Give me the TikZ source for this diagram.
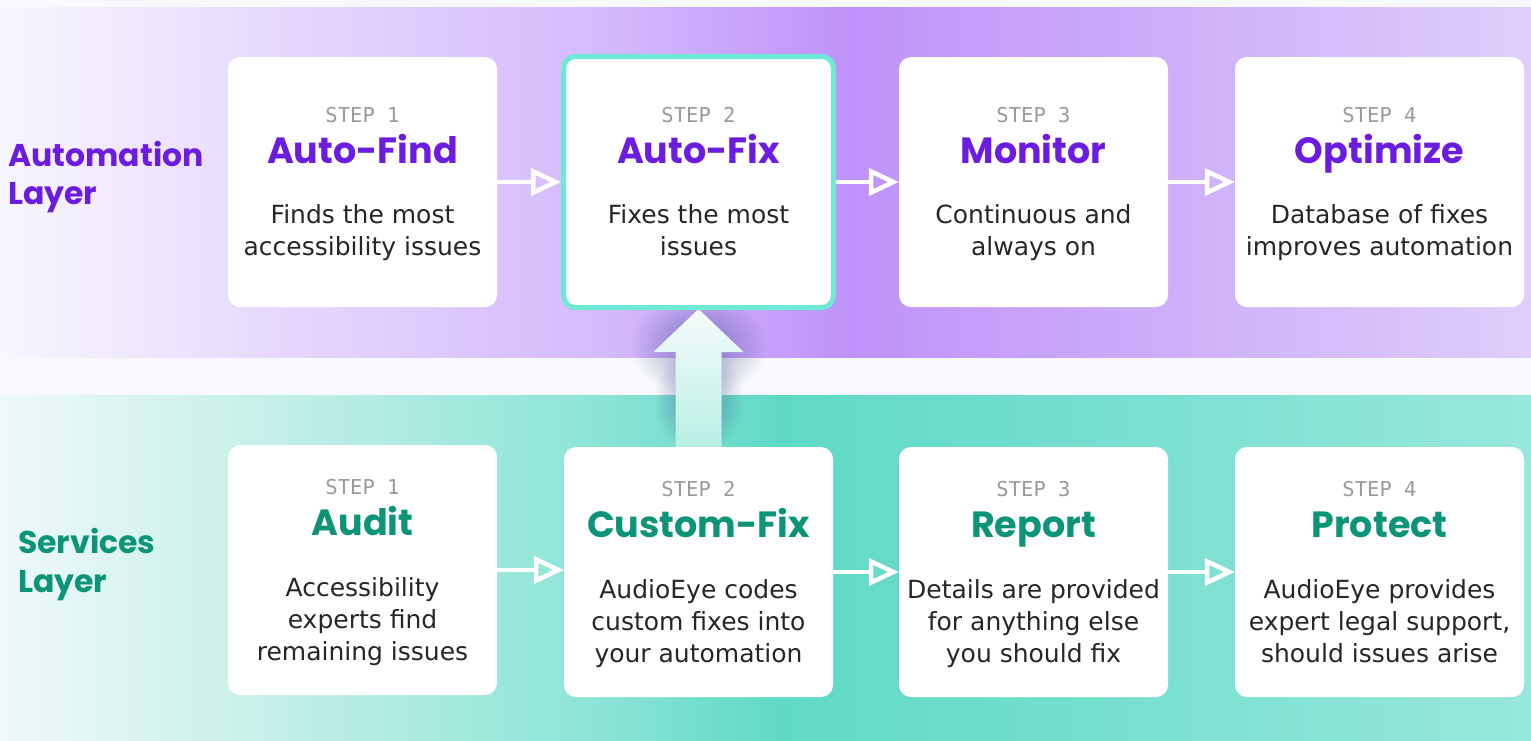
\documentclass[tikz,border=0pt]{standalone}
\usepackage{fontspec}
\setmainfont{DejaVu Sans}
\newfontfamily\titlefont{Poppins}
\newfontfamily\stepfont{DejaVu Sans Mono}
\usetikzlibrary{arrows.meta,calc,fadings}

\definecolor{pagebg}{HTML}{F8F9FC}
\definecolor{pA}{HTML}{F8F6FE}
\definecolor{pB}{HTML}{E4D6FC}
\definecolor{pC}{HTML}{D5BAFD}
\definecolor{pD}{HTML}{BF92F9}
\definecolor{pE}{HTML}{CAA8F9}
\definecolor{pF}{HTML}{DFCEFB}
\definecolor{tA}{HTML}{EEF9F8}
\definecolor{tB}{HTML}{BFEEE6}
\definecolor{tC}{HTML}{8BE4D6}
\definecolor{tD}{HTML}{5FD9C5}
\definecolor{tE}{HTML}{76DFCF}
\definecolor{tF}{HTML}{98E7DB}
\definecolor{purp}{HTML}{6C1CE0}
\definecolor{teal}{HTML}{0C9478}
\definecolor{bodytext}{HTML}{262626}
\definecolor{stepgray}{HTML}{9A9A9A}
\definecolor{tborder}{HTML}{6FE9D6}
\definecolor{arrtop}{HTML}{F5FCFB}
\definecolor{arrbot}{HTML}{B8EEE4}
\definecolor{glowc}{HTML}{3E4A8A}

\pgfdeclarehorizontalshading{purpband}{100bp}{color(0bp)=(pA); color(25bp)=(pA); color(34.8bp)=(pB); color(44.6bp)=(pC); color(52.8bp)=(pD); color(60.9bp)=(pE); color(75bp)=(pF); color(100bp)=(pF)}
\pgfdeclarehorizontalshading{tealband}{100bp}{color(0bp)=(tA); color(25bp)=(tA); color(34.8bp)=(tB); color(44.6bp)=(tC); color(50.5bp)=(tD); color(60.9bp)=(tE); color(75bp)=(tF); color(100bp)=(tF)}
\tikzfading[name=softglow, inner color=transparent!45, outer color=transparent!100]

\tikzset{
  stepbox/.style={fill=white, rounded corners=12pt, minimum width=269pt, minimum height=250pt, inner sep=0pt},
  widebox/.style={stepbox, minimum width=289pt},
  steplbl/.style={anchor=base, inner sep=0pt, text=stepgray, font=\stepfont\fontsize{20.5}{20.5}\selectfont},
  ptitle/.style={anchor=base, inner sep=0pt, text=purp, font=\titlefont\bfseries\fontsize{36.5}{36.5}\selectfont},
  ttitle/.style={ptitle, text=teal},
  body/.style={anchor=north, inner sep=0pt, align=center, text=bodytext, font=\fontsize{25}{32}\selectfont},
  layerlbl/.style={anchor=base west, inner sep=0pt, font=\titlefont\bfseries\fontsize{31.5}{31.5}\selectfont},
  conn/.style={draw=white, line width=4.5pt, -{Triangle[open, length=30pt, width=27pt, line width=4.5pt]}}
}

\begin{document}
\begin{tikzpicture}[x=1pt,y=-1pt]
\useasboundingbox (0,0) rectangle (1531,740);
\fill[pagebg] (0,0) rectangle (1531,740);
\shade[shading=purpband] (0,7) rectangle (1531,357);
\shade[shading=tealband] (0,395) rectangle (1531,740);

% layer labels
\node[layerlbl, text=purp] (la1) at (8,166) {Automation};
\node[layerlbl, text=purp] (la2) at (8,204) {Layer};
\node[layerlbl, text=teal] (ls1) at (18,553) {Services};
\node[layerlbl, text=teal] (ls2) at (18,592) {Layer};

% glow behind the big arrow
\fill[glowc, path fading=softglow] (698.5,345) ellipse [x radius=68pt, y radius=52pt];
\fill[glowc, path fading=softglow] (698.5,400) ellipse [x radius=45pt, y radius=55pt];

% anchor coordinates for the big arrow
\coordinate (upB) at (698.5,447);
\coordinate (upT) at (698.5,309);
\shade[top color=arrtop, bottom color=arrbot]
  ($(upB)+(-23,0)$) -- ($(upT)+(-23,43)$) -- ($(upT)+(-45,43)$) -- (upT)
  -- ($(upT)+(45,43)$) -- ($(upT)+(23,43)$) -- ($(upB)+(23,0)$) -- cycle;

% top row boxes
\node[stepbox] (t1) at (362.5,182) {};
\node[stepbox, draw=tborder, line width=5pt, minimum width=270pt, minimum height=251pt] (t2) at (698.5,182) {};
\node[stepbox] (t3) at (1033.5,182) {};
\node[widebox] (t4) at (1379.5,182) {};

% bottom row boxes
\node[stepbox] (b1) at (362.5,570) {};
\node[stepbox] (b2) at (698.5,572) {};
\node[stepbox] (b3) at (1033.5,572) {};
\node[widebox] (b4) at (1379.5,572) {};

% top row texts
\node[steplbl] (t1s) at (362.5,122) {STEP 1};
\node[ptitle] (t1h) at (362.5,163) {Auto-Find};
\node[body] (t1b) at (362.5,204) {Finds the most\\accessibility issues};

\node[steplbl] (t2s) at (698.5,122) {STEP 2};
\node[ptitle] (t2h) at (698.5,163) {Auto-Fix};
\node[body] (t2b) at (698.5,204) {Fixes the most\\issues};

\node[steplbl] (t3s) at (1033.5,122) {STEP 3};
\node[ptitle] (t3h) at (1033.5,163) {Monitor};
\node[body] (t3b) at (1033.5,204) {Continuous and\\always on};

\node[steplbl] (t4s) at (1379.5,122) {STEP 4};
\node[ptitle] (t4h) at (1379.5,163) {Optimize};
\node[body] (t4b) at (1379.5,204) {Database of fixes\\improves automation};

% bottom row texts
\node[steplbl] (b1s) at (362.5,494) {STEP 1};
\node[ttitle] (b1h) at (362.5,535) {Audit};
\node[body] (b1b) at (362.5,577) {Accessibility\\experts find\\remaining issues};

\node[steplbl] (b2s) at (698.5,496) {STEP 2};
\node[ttitle] (b2h) at (698.5,537) {Custom-Fix};
\node[body] (b2b) at (698.5,579) {AudioEye codes\\custom fixes into\\your automation};

\node[steplbl] (b3s) at (1033.5,496) {STEP 3};
\node[ttitle] (b3h) at (1033.5,537) {Report};
\node[body] (b3b) at (1033.5,579) {Details are provided\\for anything else\\you should fix};

\node[steplbl] (b4s) at (1379.5,496) {STEP 4};
\node[ttitle] (b4h) at (1379.5,537) {Protect};
\node[body] (b4b) at (1379.5,579) {AudioEye provides\\expert legal support,\\should issues arise};

% connectors
\draw[conn] (t1.east) -- (t2.west);
\draw[conn] (t2.east) -- (t3.west);
\draw[conn] (t3.east) -- (t4.west);
\draw[conn] (b1.east) -- (b1.east -| b2.west);
\draw[conn] (b2.east) -- (b3.west);
\draw[conn] (b3.east) -- (b4.west);
\end{tikzpicture}
\end{document}
